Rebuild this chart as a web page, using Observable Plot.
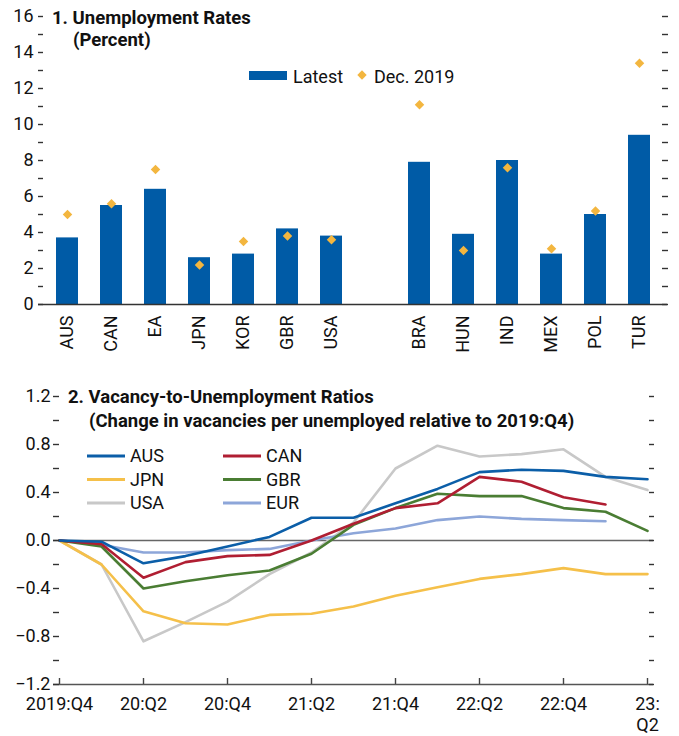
<!DOCTYPE html>
<html><head><meta charset="utf-8">
<script src="https://cdn.jsdelivr.net/npm/d3@7"></script>
<script src="https://cdn.jsdelivr.net/npm/@observablehq/plot@0.6"></script>
<style>
body{margin:0;background:#fff;}
#wrap{position:relative;width:679px;height:736px;overflow:hidden;}
#top,#bot{position:absolute;left:0;}
#top{top:0}#bot{top:360px}
#over{position:absolute;left:0;top:0;}
#over text{font-family:Roboto,'Liberation Sans',sans-serif;fill:#111;}
</style></head><body>
<div id="wrap"><div id="top"></div><div id="bot"></div><svg id="over" width="679" height="736"></svg></div>
<script>
// ---------- Data: panel 1 ----------
const countries = ["AUS","CAN","EA","JPN","KOR","GBR","USA","BRA","HUN","IND","MEX","POL","TUR"];
const latest    = [3.7, 5.5, 6.4, 2.6, 2.8, 4.2, 3.8, 7.9, 3.9, 8.0, 2.8, 5.0, 9.4];
const dec2019   = [5.0, 5.6, 7.5, 2.2, 3.5, 3.8, 3.6, 11.1, 3.0, 7.6, 3.1, 5.2, 13.4];
const gapKey = " ";
const yTicksTop  = [0,1,2,3,4,5,6,7,8,9,10,11,12,13,14,15,16];
const yLabelsTop = [0,2,4,6,8,10,12,14,16];

// ---------- Data: panel 2 ----------
const quarters = ["2019:Q4","2020:Q1","2020:Q2","2020:Q3","2020:Q4","2021:Q1","2021:Q2","2021:Q3","2021:Q4","2022:Q1","2022:Q2","2022:Q3","2022:Q4","2023:Q1","2023:Q2"];
const tickQuarters = ["2019:Q4","2020:Q2","2020:Q4","2021:Q2","2021:Q4","2022:Q2","2022:Q4","2023:Q2"];
const tickLabels   = ["2019:Q4","20:Q2","20:Q4","21:Q2","21:Q4","22:Q2","22:Q4","23:\nQ2"];
const aus = [0, -0.01, -0.19, -0.13, -0.05, 0.03, 0.19, 0.19, 0.31, 0.43, 0.57, 0.59, 0.58, 0.53, 0.51];
const can = [0, -0.03, -0.31, -0.18, -0.13, -0.12, 0.00, 0.14, 0.27, 0.31, 0.53, 0.49, 0.36, 0.30];
const jpn = [0, -0.20, -0.59, -0.69, -0.70, -0.62, -0.61, -0.55, -0.46, -0.39, -0.32, -0.28, -0.23, -0.28, -0.28];
const gbr = [0, -0.05, -0.40, -0.34, -0.29, -0.25, -0.11, 0.13, 0.27, 0.39, 0.37, 0.37, 0.27, 0.24, 0.08];
const usa = [0, -0.20, -0.84, -0.68, -0.51, -0.28, -0.10, 0.15, 0.60, 0.79, 0.70, 0.72, 0.76, 0.53, 0.42];
const eur = [0, -0.035, -0.10, -0.10, -0.08, -0.07, 0.00, 0.06, 0.10, 0.17, 0.20, 0.18, 0.17, 0.16];
const drawOrder   = ["USA","EUR","JPN","GBR","CAN","AUS"];
const drawValues  = [usa, eur, jpn, gbr, can, aus];
const legendNames = ["AUS","CAN","JPN","GBR","USA","EUR"];
const seriesColors = {AUS:"#0B5EA8", CAN:"#B01E32", JPN:"#F5C04A", GBR:"#4A7D33", USA:"#C8C8C8", EUR:"#8DA6D9"};
const yTicksBot  = [-1.2,-1.0,-0.8,-0.6,-0.4,-0.2,0,0.2,0.4,0.6,0.8,1.0,1.2];
const yLabelsBot = [-1.2,-0.8,-0.4,0,0.4,0.8,1.2];

const FONT = "Roboto,'Liberation Sans',sans-serif";
const BLUE = "#005BA6", GOLD = "#F3B63F";

// ---------- Panel 1 ----------
const rows = countries.map((c,i)=>({c, latest: latest[i], dec: dec2019[i]}));
const xDomain = [...countries.slice(0,7), gapKey, ...countries.slice(7)];
const p1 = Plot.plot({
  width:679, height:360, marginLeft:38, marginRight:12, marginTop:16, marginBottom:56,
  style:{fontFamily:FONT, fontSize:"18px", color:"#111", background:"transparent"},
  x:{type:"band", domain:xDomain, paddingInner:0.5, paddingOuter:0.25},
  y:{domain:[0,16]},
  marks:[
    Plot.barY(rows,{x:"c", y:"latest", fill:BLUE}),
    Plot.dot(rows,{x:"c", y:"dec", symbol:"diamond2", r:4.3, fill:GOLD}),
    Plot.ruleY([0],{stroke:"#333", strokeWidth:1.6}),
    Plot.axisY({anchor:"left", ticks:yTicksTop, tickSize:-5, fill:"none", stroke:"#333", strokeWidth:1.4, label:null}),
    Plot.axisY({anchor:"left", ticks:yLabelsTop, tickSize:0, tickPadding:5, label:null}),
    Plot.axisY({anchor:"right", ticks:yTicksTop, tickSize:-6, fill:"none", stroke:"#333", strokeWidth:1.4, label:null}),
    Plot.axisX({ticks:countries, tickSize:0, tickPadding:11, tickRotate:-90, label:null})
  ]
});
document.getElementById("top").appendChild(p1);

// ---------- Panel 2 ----------
const qRows = [];
drawOrder.forEach((n,k)=> drawValues[k].forEach((v,i)=> qRows.push({q:quarters[i], v, s:n})));
const p2 = Plot.plot({
  width:679, height:376, marginLeft:53, marginRight:26, marginTop:36, marginBottom:52,
  style:{fontFamily:FONT, fontSize:"18px", color:"#111", background:"transparent"},
  x:{type:"point", domain:quarters, padding:0},
  y:{domain:[-1.2,1.2]},
  color:{domain:Object.keys(seriesColors), range:Object.values(seriesColors)},
  marks:[
    Plot.ruleY([0],{stroke:"#666", strokeWidth:1.5}),
    Plot.line(qRows,{x:"q", y:"v", z:"s", stroke:"s", strokeWidth:2.6}),
    Plot.ruleY([-1.2],{stroke:"#555", strokeWidth:1.6}),
    Plot.axisY({anchor:"left", ticks:yTicksBot, tickSize:-6, fill:"none", stroke:"#333", strokeWidth:1.4, label:null}),
    Plot.axisY({anchor:"left", ticks:yLabelsBot, tickSize:0, tickPadding:3, tickFormat:d3.format(".1f"), label:null}),
    Plot.axisY({anchor:"right", ticks:yTicksBot, tickSize:-5, fill:"none", stroke:"#333", strokeWidth:1.4, label:null}),
    Plot.axisX({ticks:tickQuarters, tickSize:-6, fill:"none", stroke:"#444", strokeWidth:1.4, label:null}),
    Plot.axisX({ticks:tickQuarters, tickSize:0, tickPadding:11, lineHeight:1.15, tickFormat:d=>tickLabels[tickQuarters.indexOf(d)], label:null})
  ]
});
document.getElementById("bot").appendChild(p2);

// ---------- Titles and legends ----------
const over = d3.select("#over");
function txt(x,y,s,opts={}){
  over.append("text").attr("x",x).attr("y",y).text(s)
    .style("font-size",(opts.size||18)+"px").style("font-weight",opts.bold?"bold":"normal");
}
txt(52,24,"1. Unemployment Rates",{bold:true,size:18.5});
txt(73,46,"(Percent)",{bold:true,size:18.5});
txt(68,403,"2. Vacancy-to-Unemployment Ratios",{bold:true,size:18.5});
txt(89,427,"(Change in vacancies per unemployed relative to 2019:Q4)",{bold:true,size:18.5});

// panel 1 legend
over.append("rect").attr("x",249).attr("y",71).attr("width",38).attr("height",9).attr("fill",BLUE);
txt(293,83,"Latest");
over.append("path").attr("d","M362,70.3L366.7,75L362,79.7L357.3,75Z").attr("fill",GOLD);
txt(374,83,"Dec. 2019");

// panel 2 legend
legendNames.forEach((n,i)=>{
  const col = i%2, row = Math.floor(i/2);
  const x0 = col ? 223 : 87, y0 = 456 + row*23.5;
  over.append("line").attr("x1",x0).attr("x2",x0+38).attr("y1",y0).attr("y2",y0)
    .attr("stroke",seriesColors[n]).attr("stroke-width",3);
  txt(x0+43, y0+6, n);
});
</script>
</body></html>
